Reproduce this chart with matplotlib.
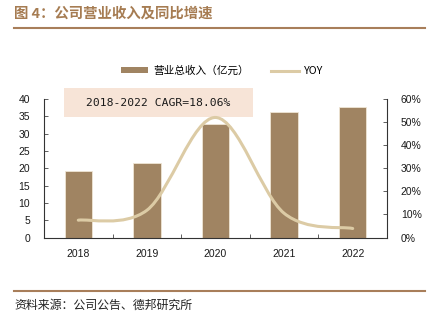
import matplotlib
matplotlib.use("Agg")
import matplotlib.pyplot as plt
from matplotlib.path import Path
from matplotlib.patches import PathPatch, Rectangle, Patch
from matplotlib.lines import Line2D
from matplotlib.ticker import FuncFormatter, FixedLocator
import numpy as np

plt.rcParams['font.family'] = ['Liberation Sans', 'Noto Sans CJK SC', 'DejaVu Sans']

# ---- data ----
years = ['2018', '2019', '2020', '2021', '2022']
revenue = [19.3, 21.6, 32.9, 36.2, 37.6]          # 营业总收入（亿元）
yoy = [7.5, 11.8, 52.0, 10.5, 3.9]                # YOY, %
left_ticks = [0, 5, 10, 15, 20, 25, 30, 35, 40]
right_ticks = [0, 10, 20, 30, 40, 50, 60]
title = '图 4：公司营业收入及同比增速'
source = '资料来源：公司公告、德邦研究所'
cagr_text = '2018-2022 CAGR=18.06%'
bar_label = '营业总收入（亿元）'
line_label = 'YOY'

BAR_C = '#A08462'
LINE_C = '#DCCBA5'
BROWN = '#A87E5A'
BOX_C = '#F7E4D7'
TXT = '#1a1a1a'

W, H = 435, 322
fig = plt.figure(figsize=(W / 100, H / 100), dpi=100)

# CAGR box (behind the transparent axes)
fig.add_artist(Rectangle((64 / W, 1 - 117 / H), (253 - 64) / W, 29 / H,
                         transform=fig.transFigure, facecolor=BOX_C, edgecolor='none', zorder=-5))

ax = fig.add_axes([44 / W, 1 - 237.5 / H, (387 - 44) / W, (237.5 - 99) / H])
ax.set_facecolor('none')
x = np.arange(len(years))
ax.bar(x, revenue, width=0.4, color=BAR_C, edgecolor='#EFE5D5', linewidth=0.6, zorder=2)
ax.set_xlim(-0.5, len(years) - 0.5)
ax.set_ylim(0, 40)
ax.set_yticks(left_ticks)
ax.set_xticks(x)
ax.set_xticklabels(years)
ax.xaxis.set_minor_locator(FixedLocator(np.arange(0.5, len(years) - 0.5, 1)))
ax.tick_params(axis='x', which='major', length=0, pad=8, labelsize=7.5, labelcolor=TXT)
ax.tick_params(axis='x', which='minor', direction='in', length=3, width=0.6, color='#444')
ax.tick_params(axis='y', direction='in', length=3, width=0.6, pad=10, labelsize=7.5,
               labelcolor=TXT, color='#444')
for s in ['top', 'right']:
    ax.spines[s].set_visible(False)
for s in ['left', 'bottom']:
    ax.spines[s].set_color('#333333')
    ax.spines[s].set_linewidth(0.8)

ax2 = ax.twinx()
ax2.set_facecolor('none')
ax2.set_ylim(0, 60)
ax2.set_yticks(right_ticks)
ax2.yaxis.set_major_formatter(FuncFormatter(lambda v, p: f'{v:.0f}%'))
ax2.tick_params(axis='y', direction='in', length=3, width=0.6, pad=10, labelsize=7.5,
                labelcolor=TXT, color='#444')
for s in ['top', 'left', 'bottom']:
    ax2.spines[s].set_visible(False)
ax2.spines['right'].set_color('#333333')
ax2.spines['right'].set_linewidth(0.8)

# smooth (Catmull-Rom -> Bezier) YOY curve through the data points
pts = np.column_stack([x, yoy]).astype(float)
ext = np.vstack([pts[0], pts, pts[-1]])
verts = [tuple(pts[0])]
codes = [Path.MOVETO]
for i in range(1, len(ext) - 2):
    p0, p1, p2, p3 = ext[i - 1], ext[i], ext[i + 1], ext[i + 2]
    c1 = p1 + (p2 - p0) / 6.0
    c2 = p2 - (p3 - p1) / 6.0
    verts += [tuple(c1), tuple(c2), tuple(p2)]
    codes += [Path.CURVE4] * 3
ax2.add_patch(PathPatch(Path(verts, codes), facecolor='none', edgecolor=LINE_C,
                        linewidth=2.2, capstyle='round', zorder=3))

fig.text(158.5 / W, 1 - 102.5 / H, cagr_text, ha='center', va='center',
         fontsize=8.2, family='DejaVu Sans Mono', color=TXT)

# legend
handles = [Patch(facecolor=BAR_C, edgecolor='none', label=bar_label),
           Line2D([], [], color=LINE_C, linewidth=2.2, label=line_label)]
fig.legend(handles=handles, loc='center', bbox_to_anchor=(222 / W, 1 - 71 / H), ncol=2,
           frameon=False, handlelength=2.6, handleheight=0.5,
           handletextpad=0.5, columnspacing=2.0,
           prop={'family': ['Noto Sans CJK SC', 'Liberation Sans'], 'size': 7.7})

# title, rules, source
fig.text(14 / W, 1 - 14 / H, title, ha='left', va='center', fontsize=10.4,
         fontweight='bold', color='#A67C52', family=['Noto Sans CJK SC', 'DejaVu Sans'])
fig.add_artist(Line2D([14 / W, 425 / W], [1 - 28 / H, 1 - 28 / H], transform=fig.transFigure,
                      color=BROWN, linewidth=1.5))
fig.add_artist(Line2D([14 / W, 425 / W], [1 - 290.7 / H, 1 - 290.7 / H], transform=fig.transFigure,
                      color=BROWN, linewidth=1.5))
fig.text(14 / W, 1 - 305 / H, source, ha='left', va='center', fontsize=8.6,
         color='#222222', family=['Noto Sans CJK SC', 'DejaVu Sans'])

fig.savefig('out.png', dpi=100)
